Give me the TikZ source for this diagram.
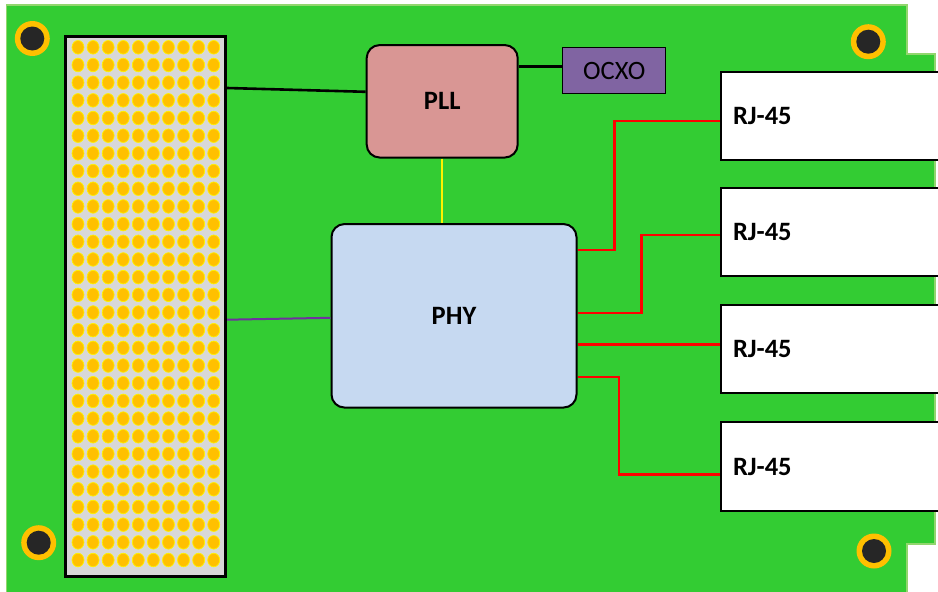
\documentclass[tikz,border=0pt]{standalone}
\usepackage{fontspec}
\setmainfont{Carlito}
\usepackage{xcolor}
\usepackage{tikz}
\usetikzlibrary{arrows.meta}
\definecolor{boardgreen}{RGB}{51,204,51}
\definecolor{boardedge}{RGB}{146,214,110}
\definecolor{padgold}{RGB}{255,192,0}
\definecolor{holedark}{RGB}{38,38,38}
\definecolor{blockgrey}{RGB}{216,216,216}
\definecolor{pllpink}{RGB}{217,150,148}
\definecolor{ocxopurple}{RGB}{128,100,162}
\definecolor{phyblue}{RGB}{198,217,241}
\definecolor{wirepurple}{RGB}{112,48,160}

\begin{document}
\begin{tikzpicture}[x=1pt,y=-1pt]
\tikzstyle{every node}=[font=\fontsize{26.5}{31}\selectfont]
\tikzstyle{chip}=[draw=black, line width=2pt, rounded corners=13pt, inner sep=0pt, font=\fontsize{26.5}{31}\selectfont\bfseries]
\tikzstyle{rjbox}=[draw=black, line width=2pt, fill=white, anchor=west, minimum height=88.5pt, text width=196pt, inner xsep=12pt, inner ysep=0pt, align=left, font=\fontsize{26.5}{31}\selectfont\bfseries]
\tikzstyle{redwire}=[red, line width=2.6pt]
\useasboundingbox (0,0) rectangle (938,592);
\fill[white] (0,0) rectangle (938,592);
% board
\draw[fill=boardgreen, draw=boardedge, line width=1.5pt] (6.5,5) -- (907,5) -- (907,54) -- (935,54) -- (935,544) -- (907,544) -- (907,600) -- (6.5,600) -- cycle;
% mounting holes
\foreach \hx/\hy in {32.3/38.5, 868.3/41.7, 874/551, 38.7/542.7} {
  \fill[padgold] (\hx,\hy) circle (17.5pt);
  \fill[holedark] (\hx,\hy) circle (12pt);
}
% connector block
\node[draw=black, line width=3pt, fill=blockgrey, minimum width=160pt, minimum height=540pt, inner sep=0pt] (blk) at (145.7,306.7) {};
\foreach \c in {0,...,9}
  \foreach \r in {0,...,29}
    \filldraw[fill=padgold, draw=yellow, line width=0.7pt] (78+15.08*\c,47.3+17.68*\r) ellipse [x radius=6pt, y radius=6.8pt];
% chips
\node[chip, fill=pllpink, minimum width=151pt, minimum height=112.5pt] (pll) at (442.2,101.3) {PLL};
\node[draw=black, line width=1pt, fill=ocxopurple, minimum width=103.5pt, minimum height=45.5pt, inner sep=0pt] (ocxo) at (614.2,70.5) {OCXO};
\node[chip, fill=phyblue, minimum width=245pt, minimum height=183.5pt] (phy) at (454,315.8) {PHY};
% ports
\node[rjbox] (rj1) at (720,116) {RJ-45};
\node[rjbox] (rj2) at (720,232) {RJ-45};
\node[rjbox] (rj3) at (720,349) {RJ-45};
\node[rjbox] (rj4) at (720,466.5) {RJ-45};
% wires
\draw[black, line width=2.6pt] ([yshift=-52.8pt]blk.north east) -- ([yshift=9.5pt]pll.west);
\draw[black, line width=2.6pt] ([yshift=4pt]pll.east |- ocxo.west) -- ([yshift=4pt]ocxo.west);
\draw[yellow, line width=2pt] (pll.south) -- (pll.south |- phy.north);
\draw[wirepurple, line width=2pt] ([yshift=-13pt]blk.east) -- ([yshift=-2pt]phy.west);
\draw[redwire] ([yshift=66pt]phy.east) -- ++(37,0) |- ([yshift=-5pt]rj1.west);
\draw[redwire] ([yshift=3pt]phy.east) -- ++(64,0) |- ([yshift=-3pt]rj2.west);
\draw[redwire] ([yshift=-28.5pt]phy.east) -- ([yshift=4.7pt]rj3.west);
\draw[redwire] ([yshift=-61pt]phy.east) -- ++(41.5,0) |- ([yshift=-7.8pt]rj4.west);
\end{tikzpicture}
\end{document}
